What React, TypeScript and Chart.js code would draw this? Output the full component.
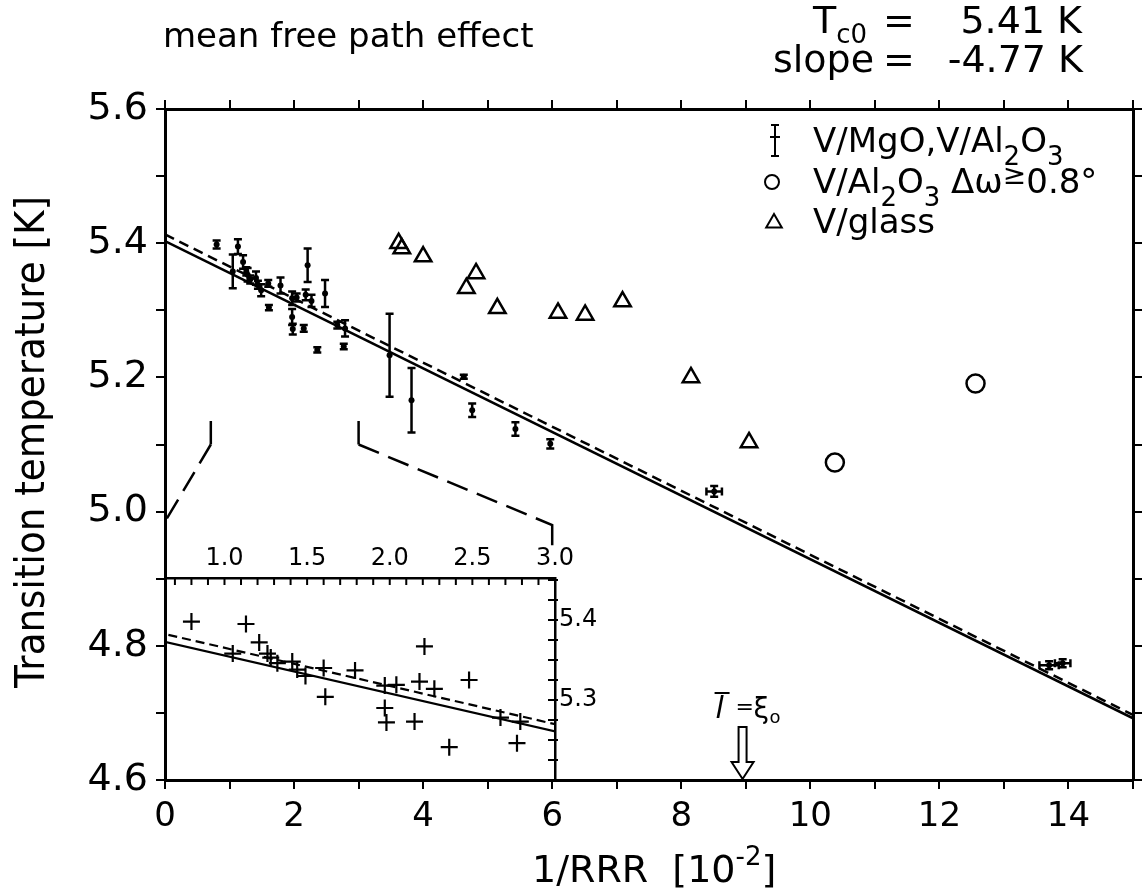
import React, { useEffect, useRef } from 'react';
import { Chart, registerables } from 'chart.js';

Chart.register(...registerables);

const FONT = '"DejaVu Sans", "Noto Sans", sans-serif';

// ---- data: V/MgO, V/Al2O3 (points with error bars) ----
const mgoX = [0.80, 1.05, 1.13, 1.21, 1.26, 1.28, 1.32, 1.41, 1.44, 1.49, 1.60, 1.61, 1.79, 1.97, 1.97, 1.98, 2.04, 2.15, 2.18, 2.21, 2.27, 2.36, 2.48, 2.67, 2.77, 2.79, 3.48, 3.82, 4.63, 4.76, 5.43, 5.97, 8.51, 13.70, 13.91];
const mgoT = [5.398, 5.358, 5.395, 5.372, 5.358, 5.353, 5.346, 5.348, 5.338, 5.330, 5.340, 5.304, 5.337, 5.318, 5.290, 5.272, 5.319, 5.273, 5.323, 5.367, 5.314, 5.241, 5.325, 5.278, 5.246, 5.273, 5.233, 5.166, 5.201, 5.151, 5.123, 5.101, 5.030, 4.771, 4.774];
const mgoTErr = [0.006, 0.025, 0.011, 0.010, 0.006, 0.010, 0.006, 0.010, 0.006, 0.009, 0.005, 0.004, 0.012, 0.010, 0.012, 0.008, 0.006, 0.005, 0.008, 0.025, 0.009, 0.004, 0.020, 0.005, 0.004, 0.012, 0.062, 0.048, 0.003, 0.010, 0.010, 0.007, 0.008, 0.006, 0.006];
const mgoXErr = [0, 0, 0, 0, 0, 0, 0, 0, 0, 0, 0, 0, 0, 0, 0, 0, 0, 0, 0, 0, 0, 0, 0, 0, 0, 0, 0, 0, 0, 0, 0, 0, 0.12, 0.15, 0.12];

// ---- data: V/glass (triangles) ----
const glassX = [3.62, 3.67, 4.00, 4.67, 4.82, 5.15, 6.09, 6.51, 7.09, 8.15, 9.05];
const glassT = [5.400, 5.392, 5.380, 5.333, 5.355, 5.303, 5.296, 5.293, 5.313, 5.200, 5.103];

// ---- data: V/Al2O3 with mosaic spread >= 0.8 deg (circles) ----
const mosaicX = [10.38, 12.56];
const mosaicT = [5.073, 5.191];

// ---- fit lines ----
const fitX = [0, 15];
const fitSolidT = [5.403, 4.692];
const fitDashT = [5.413, 4.697];

// ---- zoom-region brackets (main plot) ----
const bracketLeftX = [0.71, 0.71, 0];
const bracketLeftT = [5.135, 5.100, 4.985];
const bracketRightX = [3.0, 3.0, 6.0, 6.0];
const bracketRightT = [5.135, 5.100, 4.980, 4.950];

// ---- tick labels ----
const xLabelValues = [0, 2, 4, 6, 8, 10, 12, 14];
const yLabelValues = [4.6, 4.8, 5.0, 5.2, 5.4, 5.6];
const insetXLabelValues = [1.0, 1.5, 2.0, 2.5, 3.0];
const insetYLabelValues = [5.3, 5.4];

// ---- annotation ----
const arrowX = 8.95;

const INSET_X_MIN = 0.64;
const INSET_X_MAX = 3.0;
const INSET_T_MIN = 5.2;
const INSET_T_MAX = 5.4525;

const pts = (xs: number[], ys: number[]) => xs.map((x, i) => ({ x, y: ys[i] }));
const matchLabel = (v: number, list: number[]) => {
  const hit = list.find((l) => Math.abs(l - v) < 1e-6);
  return hit === undefined ? '' : hit.toFixed(1);
};

type Run = [string, number, number];
function drawRuns(ctx: CanvasRenderingContext2D, runs: Run[], x: number, y: number) {
  let cx = x;
  for (const [t, size, dy] of runs) {
    ctx.font = `${size}px ${FONT}`;
    ctx.fillText(t, cx, y + dy);
    cx += ctx.measureText(t).width;
  }
  return cx;
}

const bgPlugin = {
  id: 'bg',
  beforeDraw(chart: any) {
    const ctx = chart.ctx;
    ctx.save();
    ctx.fillStyle = '#fff';
    ctx.fillRect(0, 0, chart.width, chart.height);
    ctx.restore();
  },
};

const errorBarPlugin = {
  id: 'errorBars',
  afterDatasetsDraw(chart: any) {
    const { ctx, scales } = chart;
    const xs = scales.x;
    const ys = scales.y;
    ctx.save();
    ctx.strokeStyle = '#000';
    ctx.lineWidth = 2.5;
    mgoX.forEach((xv, i) => {
      const px = xs.getPixelForValue(xv);
      const py = ys.getPixelForValue(mgoT[i]);
      const top = ys.getPixelForValue(mgoT[i] + mgoTErr[i]);
      const bot = ys.getPixelForValue(mgoT[i] - mgoTErr[i]);
      ctx.beginPath();
      ctx.moveTo(px, top);
      ctx.lineTo(px, bot);
      ctx.moveTo(px - 4, top);
      ctx.lineTo(px + 4, top);
      ctx.moveTo(px - 4, bot);
      ctx.lineTo(px + 4, bot);
      const xe = mgoXErr[i];
      if (xe > 0) {
        const l = xs.getPixelForValue(xv - xe);
        const r = xs.getPixelForValue(xv + xe);
        ctx.moveTo(l, py);
        ctx.lineTo(r, py);
        ctx.moveTo(l, py - 4);
        ctx.lineTo(l, py + 4);
        ctx.moveTo(r, py - 4);
        ctx.lineTo(r, py + 4);
      }
      ctx.stroke();
    });
    ctx.restore();
  },
};

const annotationPlugin = {
  id: 'annot',
  afterDraw(chart: any) {
    const { ctx, scales, chartArea: a } = chart;
    ctx.save();
    ctx.fillStyle = '#000';
    ctx.strokeStyle = '#000';
    ctx.textAlign = 'left';
    ctx.textBaseline = 'alphabetic';

    // header
    ctx.font = `34px ${FONT}`;
    ctx.fillText('mean free path effect', 163, 47);
    drawRuns(ctx, [['T', 38, 0], ['c0', 26, 10]], 813, 33);
    ctx.font = `38px ${FONT}`;
    ctx.fillText('=', 883, 33);
    ctx.fillText('slope', 773, 72);
    ctx.fillText('=', 883, 72);
    ctx.textAlign = 'right';
    ctx.fillText('5.41 K', 1082, 33);
    ctx.fillText('-4.77 K', 1083, 72);
    ctx.textAlign = 'left';

    // legend
    ctx.lineWidth = 2;
    ctx.beginPath();
    ctx.moveTo(775, 125); ctx.lineTo(775, 156);
    ctx.moveTo(771, 125); ctx.lineTo(779, 125);
    ctx.moveTo(771, 156); ctx.lineTo(779, 156);
    ctx.moveTo(770, 137); ctx.lineTo(780, 137);
    ctx.stroke();
    drawRuns(ctx, [['V/MgO,V/Al', 34, 0], ['2', 26, 13], ['O', 34, 0], ['3', 26, 13]], 813, 152);
    ctx.beginPath();
    ctx.arc(772, 182, 7, 0, Math.PI * 2);
    ctx.stroke();
    const endA = drawRuns(ctx, [['V/Al', 34, 0], ['2', 26, 13], ['O', 34, 0], ['3', 26, 13]], 813, 193);
    drawRuns(ctx, [[' \u0394\u03c9', 34, 0], ['\u2265', 28, -9], ['0.8\u00b0', 34, 0]], endA, 193);
    const tr = 9;
    ctx.beginPath();
    ctx.moveTo(774, 223 - tr);
    ctx.lineTo(774 + tr * 0.866, 223 + tr / 2);
    ctx.lineTo(774 - tr * 0.866, 223 + tr / 2);
    ctx.closePath();
    ctx.stroke();
    drawRuns(ctx, [['V/glass', 34, 0]], 813, 233);

    // x title
    drawRuns(ctx, [['1/RRR  [10', 38, 0], ['-2', 26, -17], [']', 38, 0]], 532, 882);

    // y title
    ctx.save();
    ctx.translate(44, 442);
    ctx.rotate(-Math.PI / 2);
    ctx.font = `40px ${FONT}`;
    const yt = 'Transition temperature [K]';
    const w = ctx.measureText(yt).width;
    const sx = Math.min(1, 492 / w);
    ctx.scale(sx, 1);
    ctx.textAlign = 'center';
    ctx.fillText(yt, 0, 0);
    ctx.restore();

    // arrow  l = xi0
    const ax = scales.x.getPixelForValue(arrowX);
    const b = a.bottom;
    ctx.lineWidth = 2;
    ctx.beginPath();
    ctx.moveTo(ax - 4, b - 53);
    ctx.lineTo(ax - 4, b - 18);
    ctx.lineTo(ax - 11, b - 18);
    ctx.lineTo(ax, b - 1);
    ctx.lineTo(ax + 11, b - 18);
    ctx.lineTo(ax + 4, b - 18);
    ctx.lineTo(ax + 4, b - 53);
    ctx.closePath();
    ctx.stroke();
    ctx.font = `italic 30px ${FONT}`;
    const lx = ax - 27;
    const ly = b - 62;
    ctx.fillText('l', lx, ly);
    ctx.beginPath();
    ctx.moveTo(lx - 1, ly - 25);
    ctx.lineTo(lx + 14, ly - 25);
    ctx.stroke();
    ctx.font = `22px ${FONT}`;
    ctx.fillText('=', lx + 20, ly - 4);
    ctx.font = `28px ${FONT}`;
    ctx.fillText('\u03be', lx + 38, ly);
    ctx.font = `18px ${FONT}`;
    ctx.fillText('o', lx + 54, ly + 5);

    ctx.restore();
  },
};

const insetTickPlugin = {
  id: 'insetTicks',
  afterDraw(chart: any) {
    const { ctx, scales, chartArea: a } = chart;
    ctx.save();
    ctx.strokeStyle = '#000';
    ctx.lineWidth = 2;
    ctx.beginPath();
    for (let k = 7; k <= 30; k++) {
      const px = scales.x.getPixelForValue(k / 10);
      ctx.moveTo(px, a.top);
      ctx.lineTo(px, a.top + 7);
    }
    for (let k = 1; k <= 10; k++) {
      const py = scales.y.getPixelForValue(INSET_T_MIN + k * 0.025);
      ctx.moveTo(a.right - 7, py);
      ctx.lineTo(a.right + 3, py);
    }
    ctx.stroke();
    ctx.restore();
  },
};

const tickFont = (size: number) => ({ family: FONT, size });
const outGrid = { drawOnChartArea: false, drawTicks: true, tickLength: 9, color: '#000', lineWidth: 2 };
const border = { display: true, color: '#000', width: 3 };

export default function App() {
  const mainRef = useRef<HTMLCanvasElement>(null);
  const insetRef = useRef<HTMLCanvasElement>(null);

  useEffect(() => {
    const main = new Chart(mainRef.current as HTMLCanvasElement, {
      type: 'scatter',
      data: {
        datasets: [
          { data: pts(fitX, fitSolidT), showLine: true, borderColor: '#000', borderWidth: 2.5, pointRadius: 0 },
          { data: pts(fitX, fitDashT), showLine: true, borderColor: '#000', borderWidth: 2.5, borderDash: [10, 6], pointRadius: 0 },
          {
            data: pts(bracketLeftX, bracketLeftT), showLine: true, borderColor: '#000', borderWidth: 2.5, pointRadius: 0,
            segment: { borderDash: (c: any) => (c.p0DataIndex === 0 ? [] : [22, 10]) },
          },
          {
            data: pts(bracketRightX, bracketRightT), showLine: true, borderColor: '#000', borderWidth: 2.5, pointRadius: 0,
            segment: { borderDash: (c: any) => (c.p0DataIndex === 0 ? [] : [22, 10]) },
          },
          { data: pts(mgoX, mgoT), pointRadius: 3, pointBackgroundColor: '#000', pointBorderWidth: 0, borderColor: '#000' },
          { data: pts(glassX, glassT), pointStyle: 'triangle', pointRadius: 9.5, pointBorderWidth: 2.5, borderColor: '#000', pointBorderColor: '#000', pointBackgroundColor: 'rgba(0,0,0,0)' },
          { data: pts(mosaicX, mosaicT), pointStyle: 'circle', pointRadius: 9, pointBorderWidth: 2.5, borderColor: '#000', pointBorderColor: '#000', pointBackgroundColor: 'rgba(0,0,0,0)' },
        ],
      } as any,
      options: {
        animation: false,
        responsive: false,
        events: [],
        layout: { padding: 0 },
        plugins: { legend: { display: false }, tooltip: { enabled: false } },
        scales: {
          x: {
            type: 'linear', position: 'bottom', min: 0, max: 15,
            afterFit: (s: any) => { s.height = 110; },
            ticks: {
              stepSize: 1, autoSkip: false, maxRotation: 0, padding: 8, color: '#000', font: tickFont(34),
              callback: (v: any) => (xLabelValues.includes(Number(v)) ? String(v) : ''),
            },
            grid: outGrid, border,
          },
          xTop: {
            type: 'linear', position: 'top', min: 0, max: 15,
            afterFit: (s: any) => { s.height = 109; },
            ticks: { stepSize: 1, autoSkip: false, maxRotation: 0, callback: () => '' },
            grid: outGrid, border,
          },
          y: {
            type: 'linear', position: 'left', min: 4.6, max: 5.6,
            afterFit: (s: any) => { s.width = 165; },
            ticks: {
              stepSize: 0.1, autoSkip: false, padding: 8, color: '#000', font: tickFont(38),
              callback: (v: any) => matchLabel(Number(v), yLabelValues),
            },
            grid: outGrid, border,
          },
          yRight: {
            type: 'linear', position: 'right', min: 4.6, max: 5.6,
            afterFit: (s: any) => { s.width = 5; },
            ticks: { stepSize: 0.1, autoSkip: false, callback: () => '' },
            grid: outGrid, border,
          },
        },
      } as any,
      plugins: [bgPlugin, errorBarPlugin, annotationPlugin],
    });

    const insetIdx = mgoX.map((x, i) => i).filter((i) => mgoX[i] >= INSET_X_MIN && mgoX[i] <= INSET_X_MAX);
    const inset = new Chart(insetRef.current as HTMLCanvasElement, {
      type: 'scatter',
      data: {
        datasets: [
          { data: pts(fitX, fitSolidT), showLine: true, borderColor: '#000', borderWidth: 2.2, pointRadius: 0 },
          { data: pts(fitX, fitDashT), showLine: true, borderColor: '#000', borderWidth: 2.2, borderDash: [9, 5], pointRadius: 0 },
          {
            data: insetIdx.map((i) => ({ x: mgoX[i], y: mgoT[i] })),
            pointStyle: 'cross', pointRadius: 8.5, pointBorderWidth: 2.2, pointBorderColor: '#000', borderColor: '#000',
          },
        ],
      } as any,
      options: {
        animation: false,
        responsive: false,
        events: [],
        layout: { padding: { left: 165, bottom: 110, top: 0, right: 0 } },
        plugins: { legend: { display: false }, tooltip: { enabled: false } },
        scales: {
          x: {
            type: 'linear', position: 'top', min: INSET_X_MIN, max: INSET_X_MAX,
            afterFit: (s: any) => { s.height = 578; },
            ticks: {
              stepSize: 0.1, autoSkip: false, maxRotation: 0, padding: 5, color: '#000', font: tickFont(24),
              callback: (v: any) => matchLabel(Number(v), insetXLabelValues),
            },
            grid: { display: false, drawTicks: false },
            border: { display: true, color: '#000', width: 2.5 },
          },
          y: {
            type: 'linear', position: 'right', min: INSET_T_MIN, max: INSET_T_MAX,
            afterFit: (s: any) => { s.width = 590; },
            ticks: {
              stepSize: 0.025, autoSkip: false, padding: 4, color: '#000', font: tickFont(24),
              callback: (v: any) => matchLabel(Number(v), insetYLabelValues),
            },
            grid: { display: false, drawTicks: false },
            border: { display: true, color: '#000', width: 2.5 },
          },
        },
      } as any,
      plugins: [insetTickPlugin],
    });

    return () => {
      main.destroy();
      inset.destroy();
    };
  }, []);

  return (
    <div style={{ position: 'absolute', left: 0, top: 0, width: 1145, height: 890, background: '#fff', overflow: 'hidden' }}>
      <canvas ref={mainRef} width={1145} height={890} style={{ position: 'absolute', left: 0, top: 0, width: 1145, height: 890 }} />
      <canvas ref={insetRef} width={1145} height={890} style={{ position: 'absolute', left: 0, top: 0, width: 1145, height: 890 }} />
    </div>
  );
}
